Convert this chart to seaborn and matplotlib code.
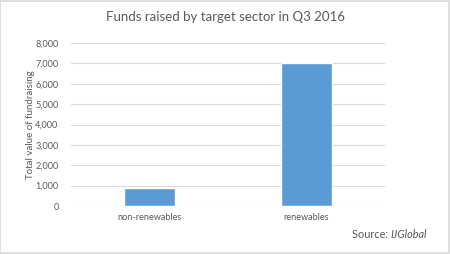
import matplotlib
matplotlib.use("Agg")
import matplotlib.pyplot as plt
import seaborn as sns
import pandas as pd
from matplotlib.patches import Rectangle

categories = ["non-renewables", "renewables"]
values = [880, 7000]
yticks = [0, 1000, 2000, 3000, 4000, 5000, 6000, 7000, 8000]

sns.set_style("white")
plt.rcParams['font.family'] = ['Lato', 'DejaVu Sans']

df = pd.DataFrame({"sector": categories, "value": values})

fig = plt.figure(figsize=(4.5, 2.54), dpi=100)
ax = fig.add_axes([71/450, 1-206/254, 314/450, 163/254])
sns.barplot(data=df, x="sector", y="value", color="#5B9BD5", saturation=1, width=0.32, ax=ax, zorder=3)
ax.set_xlim(-0.5, 1.5)
ax.set_ylim(0, 8000)
ax.set_yticks(yticks)
ax.set_yticklabels([f"{v:,}" for v in yticks])
ax.yaxis.grid(True, color="#D9D9D9", linewidth=0.8, zorder=0)
ax.set_axisbelow(True)
for s in ax.spines.values():
    s.set_visible(False)
ax.tick_params(axis="both", length=0, labelsize=6.6, colors="#595959")
ax.tick_params(axis="y", pad=9)
ax.tick_params(axis="x", pad=5)
ax.set_xlabel("")
ax.set_ylabel("Total value of fundraising", fontsize=7, color="#595959", labelpad=0)
fig.text(0.5, 1-17/254, "Funds raised by target sector in Q3 2016", ha="center", va="center",
         fontsize=9.5, color="#595959")
t1 = fig.text(352/450, 1-234/254, "Source: ", ha="left", va="center", fontsize=7.8, color="#595959")
fig.canvas.draw()
bb = t1.get_window_extent()
fig.text(bb.x1/450, 1-234/254, "IJGlobal", ha="left", va="center", fontsize=7.8, color="#595959", style="italic")
fig.patches.append(Rectangle((0.001, 0.002), 0.997, 0.995, transform=fig.transFigure, fill=False,
                             edgecolor="#D9D9D9", linewidth=1.2))
fig.savefig("out.png", dpi=100)
